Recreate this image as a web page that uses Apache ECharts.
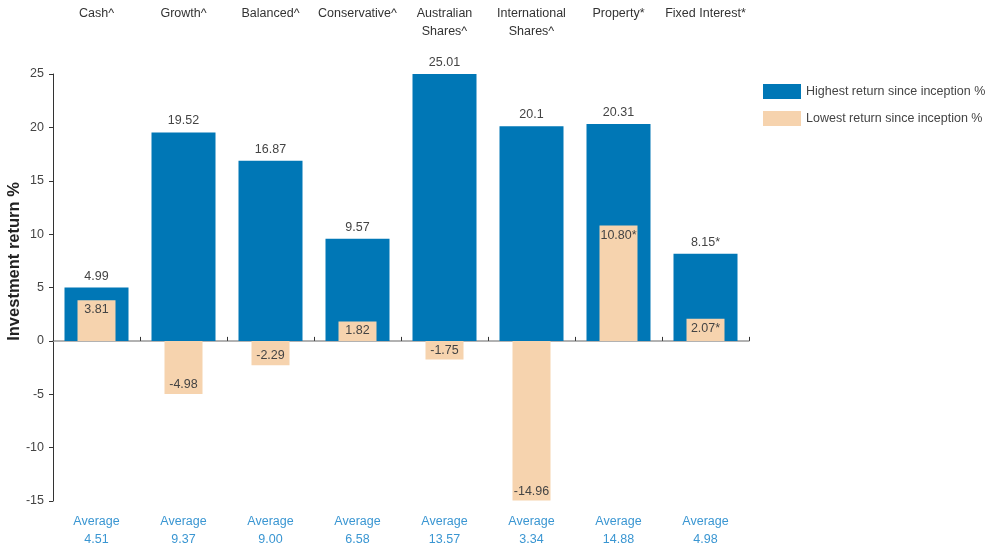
<!DOCTYPE html>
<html>
<head>
<meta charset="utf-8">
<script src="https://cdn.jsdelivr.net/npm/echarts@6/dist/echarts.min.js"></script>
<style>
  html, body { margin: 0; padding: 0; background: #fff; }
  #chart { width: 990px; height: 547px; }
</style>
</head>
<body>
<div id="chart"></div>
<script>
// fund categories (top labels) and averages (bottom labels)
const categories = ['Cash^', 'Growth^', 'Balanced^', 'Conservative^', 'Australian\nShares^', 'International\nShares^', 'Property*', 'Fixed Interest*']
const averages = ['4.51', '9.37', '9.00', '6.58', '13.57', '3.34', '14.88', '4.98']

const highest = [4.99, 19.52, 16.87, 9.57, 25.01, 20.1, 20.31, 8.15]
const highestLabels = ['4.99', '19.52', '16.87', '9.57', '25.01', '20.1', '20.31', '8.15*']
const lowest = [3.81, -4.98, -2.29, 1.82, -1.75, -14.96, 10.80, 2.07]
const lowestLabels = ['3.81', '-4.98', '-2.29', '1.82', '-1.75', '-14.96', '10.80*', '2.07*']

const yTicks = { min: -15, max: 25, interval: 5 }

const FONT = "'Liberation Sans', Arial, sans-serif"
const FS = 12.5
const TEXT = '#444'

let chart = echarts.init(document.getElementById('chart'))

chart.setOption({
  animation: false,
  textStyle: { fontFamily: FONT },
  grid: { left: 53, right: 241, top: 74, bottom: 46, containLabel: false, outerBoundsMode: 'none' },
  legend: {
    orient: 'vertical',
    left: 758,
    top: 79,
    itemWidth: 38,
    itemHeight: 15,
    itemGap: 12,
    icon: 'rect',
    textStyle: { fontFamily: FONT, fontSize: FS, color: TEXT },
    data: ['Highest return since inception %', 'Lowest return since inception %']
  },
  xAxis: [
    {
      // category names on top
      type: 'category',
      position: 'top',
      data: categories,
      axisLine: { show: false, onZero: false },
      axisTick: { show: false },
      axisLabel: {
        interval: 0,
        margin: 69,
        verticalAlign: 'top',
        fontFamily: FONT,
        fontSize: FS,
        lineHeight: 18,
        color: '#333'
      }
    },
    {
      // averages at the bottom
      type: 'category',
      position: 'bottom',
      data: averages.map(a => 'Average\n' + a),
      axisLine: { show: false, onZero: false },
      axisTick: { show: false },
      axisLabel: {
        interval: 0,
        margin: 12,
        fontFamily: FONT,
        fontSize: FS,
        lineHeight: 18,
        color: '#3a96d2'
      }
    },
    {
      // zero line
      type: 'category',
      position: 'bottom',
      data: categories,
      axisLine: { show: true, onZero: true, lineStyle: { color: '#999', width: 1.5 } },
      axisTick: { show: true, interval: 0, inside: true, length: 4, lineStyle: { color: '#333' } },
      axisLabel: { show: false, interval: 0 }
    }
  ],
  yAxis: {
    type: 'value',
    min: yTicks.min,
    max: yTicks.max,
    interval: yTicks.interval,
    name: 'Investment return %',
    nameLocation: 'middle',
    nameGap: 30,
    nameMoveOverlap: false,
    nameTextStyle: {
      fontFamily: FONT,
      fontSize: 16.5,
      fontWeight: 'bold',
      color: '#222',
      padding: [0, 0, 0, 52]
    },
    axisLine: { show: true, lineStyle: { color: '#333' } },
    axisTick: { show: true, length: 4, lineStyle: { color: '#333' } },
    splitLine: { show: false },
    axisLabel: { margin: 9, fontFamily: FONT, fontSize: FS, color: TEXT }
  },
  series: [
    {
      name: 'Highest return since inception %',
      type: 'bar',
      xAxisIndex: 0,
      barWidth: 64,
      itemStyle: { color: '#0077b6' },
      label: {
        show: true,
        position: 'top',
        distance: 5,
        fontFamily: FONT,
        fontSize: FS,
        color: TEXT,
        formatter: p => highestLabels[p.dataIndex]
      },
      data: highest
    },
    {
      name: 'Lowest return since inception %',
      type: 'bar',
      xAxisIndex: 1,
      barWidth: 38,
      itemStyle: { color: '#f6d3ae' },
      label: {
        show: true,
        distance: 3,
        fontFamily: FONT,
        fontSize: FS,
        color: TEXT,
        formatter: p => lowestLabels[p.dataIndex]
      },
      data: lowest.map(v => ({ value: v, label: { position: v >= 0 ? 'insideTop' : 'insideBottom' } }))
    }
  ]
})
</script>
</body>
</html>
